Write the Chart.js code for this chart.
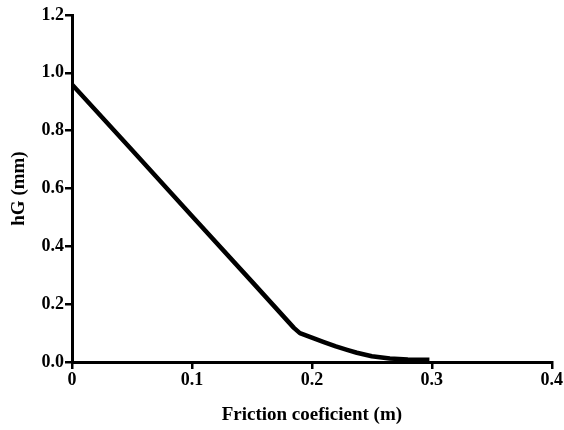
<!DOCTYPE html>
<html>
<head>
<meta charset="utf-8">
<script src="https://cdn.jsdelivr.net/npm/chart.js@4/dist/chart.umd.min.js"></script>
<style>
    html, body { margin: 0; padding: 0; background: #fff; }
    #wrap { width: 564px; height: 430px; }
</style>
</head>
<body>
<div id="wrap"><canvas id="frictionChart"></canvas></div>
<script>
// Friction coefficient vs hG
const frictionX = [0, 0.05, 0.1, 0.15, 0.185, 0.19, 0.2, 0.21, 0.22, 0.23, 0.2375, 0.25, 0.265, 0.28, 0.298];
const hgValues = [0.96, 0.733, 0.505, 0.278, 0.118, 0.1, 0.084, 0.069, 0.054, 0.041, 0.032, 0.02, 0.012, 0.009, 0.008];
const xTicks = [0, 0.1, 0.2, 0.3, 0.4];
const yTicks = [0, 0.2, 0.4, 0.6, 0.8, 1.0, 1.2];

const tickFont = { family: 'Liberation Serif', size: 18, weight: 'bold' };
const titleFont = { family: 'Liberation Serif', size: 19, weight: 'bold' };

const points = frictionX.map((x, i) => ({ x: x, y: hgValues[i] }));

const ctx = document.getElementById('frictionChart').getContext('2d');
new Chart(ctx, {
    type: 'line',
    data: {
        datasets: [{
            data: points,
            borderColor: '#000',
            borderWidth: 4.5,
            borderJoinStyle: 'round',
            pointRadius: 0,
            fill: false,
            tension: 0
        }]
    },
    options: {
        responsive: true,
        maintainAspectRatio: false,
        animation: false,
        layout: {
            padding: { top: 15, right: 12, left: 0, bottom: 0 }
        },
        plugins: {
            legend: { display: false },
            tooltip: { enabled: false }
        },
        scales: {
            x: {
                type: 'linear',
                min: 0,
                max: 0.4,
                afterBuildTicks: function(scale) {
                    scale.ticks = xTicks.map(v => ({ value: v }));
                },
                afterFit: function(scale) {
                    scale.height = 68;
                },
                ticks: {
                    color: '#000',
                    font: tickFont,
                    padding: 1,
                    maxRotation: 0,
                    callback: function(value) {
                        return value === 0 ? '0' : value.toFixed(1);
                    }
                },
                grid: {
                    display: true,
                    drawOnChartArea: false,
                    drawTicks: true,
                    tickLength: 7,
                    color: '#000',
                    lineWidth: 2.5
                },
                border: { color: '#000', width: 3 },
                title: {
                    display: true,
                    text: 'Friction coeficient (m)',
                    color: '#000',
                    font: titleFont,
                    padding: { top: 6 }
                }
            },
            y: {
                min: 0,
                max: 1.2,
                afterBuildTicks: function(scale) {
                    scale.ticks = yTicks.map(v => ({ value: v }));
                },
                afterFit: function(scale) {
                    scale.width = 72;
                },
                ticks: {
                    color: '#000',
                    font: tickFont,
                    padding: 1,
                    callback: function(value) {
                        return value.toFixed(1);
                    }
                },
                grid: {
                    display: true,
                    drawOnChartArea: false,
                    drawTicks: true,
                    tickLength: 7,
                    color: '#000',
                    lineWidth: 2.5
                },
                border: { color: '#000', width: 3 },
                title: {
                    display: true,
                    text: 'hG (mm)',
                    color: '#000',
                    font: titleFont,
                    padding: { top: 8, bottom: 0 }
                }
            }
        }
    }
});
</script>
</body>
</html>
